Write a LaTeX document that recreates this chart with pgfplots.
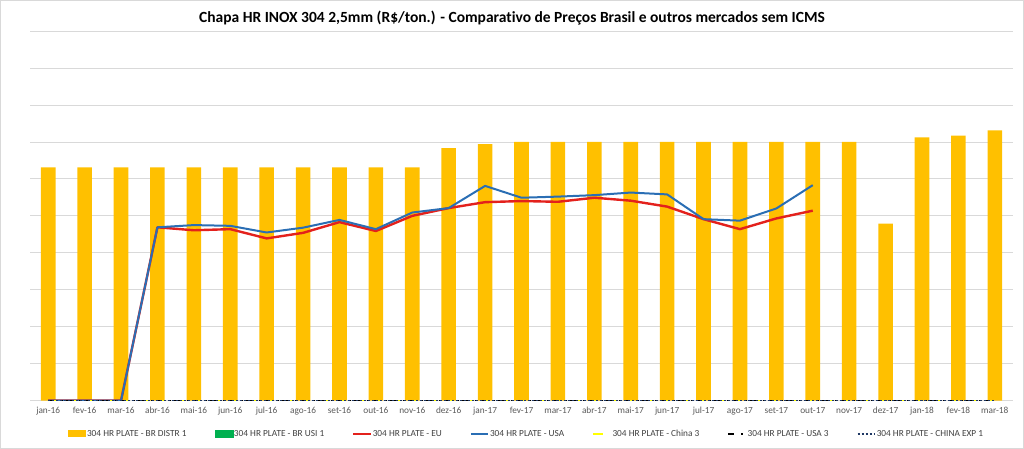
\documentclass[border=0pt]{standalone}
\usepackage{pgfplots}
\pgfplotsset{compat=1.18}
\usepackage{fontspec}
\setmainfont{Carlito}[Ligatures=NoCommon]
\definecolor{cOrange}{HTML}{FFC000}
\definecolor{cGreen}{HTML}{00B050}
\definecolor{cRed}{HTML}{E3211C}
\definecolor{cBlue}{HTML}{2A6EB4}
\definecolor{cYellow}{HTML}{FFFF00}
\definecolor{cNavy}{HTML}{1F3864}
\definecolor{cGrid}{HTML}{D9D9D9}
\definecolor{cText}{HTML}{595959}
\definecolor{cLeg}{HTML}{404040}
\begin{document}
\begin{tikzpicture}
\draw[cGrid, line width=0.8pt] (0.4pt,0.4pt) rectangle (1023.6pt,448.6pt);
\node[font=\fontsize{15.5}{17}\selectfont\bfseries, text=black] at (512pt,431pt)
  {Chapa HR INOX 304 2,5mm (R\$/ton.) - Comparativo de Preços Brasil e outros mercados sem ICMS};
\begin{axis}[
  at={(30pt,48.3pt)}, anchor=south west,
  scale only axis, width=983pt, height=369.7pt,
  xmin=-0.5, xmax=26.5, ymin=0, ymax=10,
  axis line style={draw=none},
  ytick={0,1,...,10}, yticklabels={},
  ymajorgrids, grid style={cGrid, line width=0.8pt},
  major tick style={draw=none},
  xtick={0,...,26},
  xticklabels={jan-16,fev-16,mar-16,abr-16,mai-16,jun-16,jul-16,ago-16,set-16,out-16,nov-16,dez-16,jan-17,fev-17,mar-17,abr-17,mai-17,jun-17,jul-17,ago-17,set-17,out-17,nov-17,dez-17,jan-18,fev-18,mar-18},
  xticklabel style={font=\fontsize{9.3}{10}\selectfont, text=cText, yshift=-3pt},
  legend columns=7,
  legend style={at={(0.5046,-0.090)}, anchor=center, draw=none, fill=none,
    font=\fontsize{9.3}{10}\selectfont, text=cLeg,
    /tikz/every even column/.append style={column sep=27pt},
    nodes={inner sep=1pt}},
  legend cell align=left,
]
\addplot[ybar, bar width=14.6pt, bar shift=0pt, fill=cOrange, draw=none,
  legend image code/.code={\fill[cOrange] (0pt,-3.5pt) rectangle (18pt,3.5pt);}]
  coordinates {(0,6.31)(1,6.31)(2,6.31)(3,6.31)(4,6.31)(5,6.31)(6,6.31)(7,6.31)(8,6.31)(9,6.31)(10,6.31)
  (11,6.83)(12,6.94)(13,7.00)(14,7.00)(15,7.00)(16,7.00)(17,7.00)(18,7.00)(19,7.00)(20,7.00)(21,7.00)(22,7.00)
  (23,4.79)(24,7.12)(25,7.17)(26,7.31)};
\addlegendentry{304 HR PLATE - BR DISTR 1}
\addlegendimage{legend image code/.code={\fill[cGreen] (0pt,-3.5pt) rectangle (18pt,3.5pt);}}
\addlegendentry{304 HR PLATE - BR USI 1}
\addplot[cRed, line width=2.4pt, line join=round]
  coordinates {(0,0)(1,0)(2,0)(3,4.69)(4,4.61)(5,4.64)(6,4.39)(7,4.54)(8,4.83)(9,4.59)(10,5.00)(11,5.21)
  (12,5.37)(13,5.40)(14,5.38)(15,5.49)(16,5.41)(17,5.25)(18,4.91)(19,4.64)(20,4.93)(21,5.14)};
\addlegendentry{304 HR PLATE - EU}
\addplot[cBlue, line width=2pt, line join=round]
  coordinates {(0,0)(1,0)(2,0)(3,4.69)(4,4.75)(5,4.73)(6,4.55)(7,4.68)(8,4.89)(9,4.64)(10,5.09)(11,5.21)
  (12,5.81)(13,5.49)(14,5.52)(15,5.56)(16,5.63)(17,5.58)(18,4.91)(19,4.87)(20,5.20)(21,5.83)};
\addlegendentry{304 HR PLATE - USA}
\addplot[cYellow, line width=2.2pt, dash pattern=on 10pt off 8pt]
  coordinates {(0,0)(1,0)(2,0)(3,0)(4,0)(5,0)(6,0)(7,0)(8,0)(9,0)(10,0)(11,0)(12,0)(13,0)(14,0)(15,0)(16,0)(17,0)(18,0)(19,0)(20,0)(21,0)(22,0)(23,0)(24,0)(25,0)(26,0)};
\addlegendentry{304 HR PLATE - China 3}
\addplot[black, line width=2.2pt, dash pattern=on 6pt off 7pt on 2pt off 3pt]
  coordinates {(0,0)(1,0)(2,0)(3,0)(4,0)(5,0)(6,0)(7,0)(8,0)(9,0)(10,0)(11,0)(12,0)(13,0)(14,0)(15,0)(16,0)(17,0)(18,0)(19,0)(20,0)(21,0)(22,0)(23,0)(24,0)(25,0)(26,0)};
\addlegendentry{304 HR PLATE - USA 3}
\addplot[cNavy, line width=2pt, dash pattern=on 2pt off 2pt]
  coordinates {(0,0)(1,0)(2,0)(3,0)(4,0)(5,0)(6,0)(7,0)(8,0)(9,0)(10,0)(11,0)(12,0)(13,0)(14,0)(15,0)(16,0)(17,0)(18,0)(19,0)(20,0)(21,0)(22,0)(23,0)(24,0)(25,0)(26,0)};
\addlegendentry{304 HR PLATE - CHINA EXP 1}
\end{axis}
\end{tikzpicture}
\end{document}
